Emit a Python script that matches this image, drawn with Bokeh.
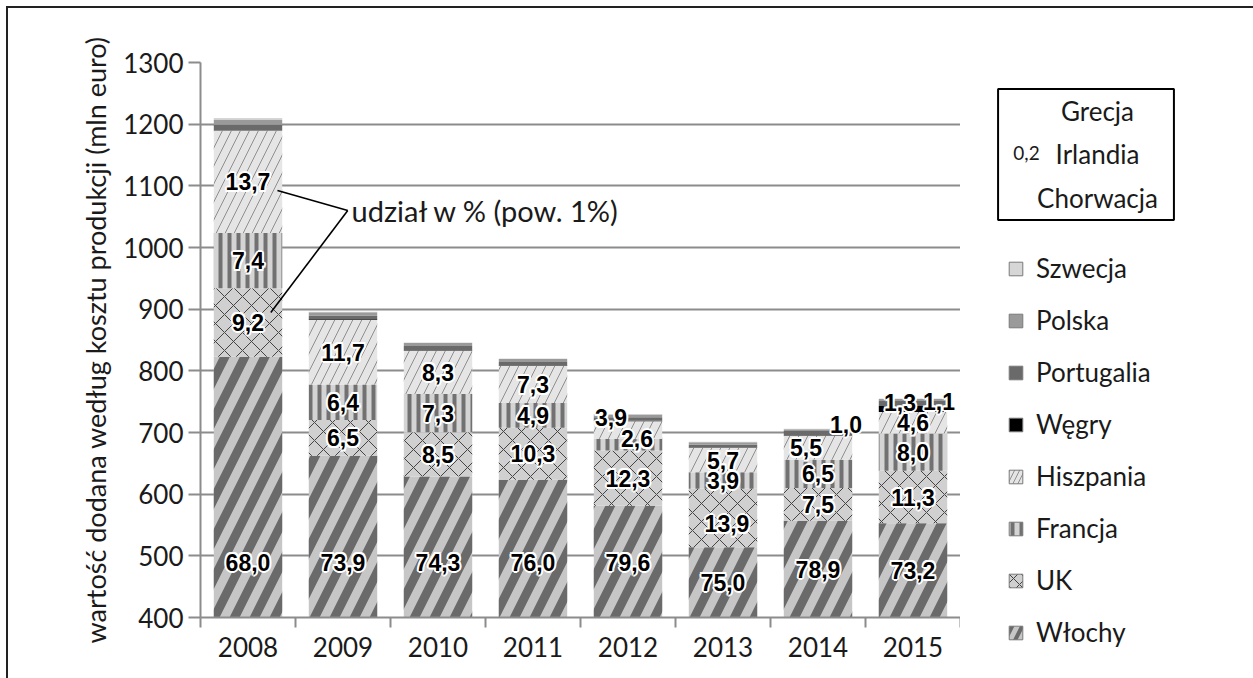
from bokeh.plotting import figure
from bokeh.layouts import row
from bokeh.models import Range1d, FixedTicker, Legend, LegendItem, Label, ColumnDataSource
from bokeh.core.properties import value
from bokeh.embed import file_html
from bokeh.resources import INLINE

# ---- data -------------------------------------------------------------
years = ["2008", "2009", "2010", "2011", "2012", "2013", "2014", "2015"]
# total value added at factor cost, mln euro
totals = [1210, 896, 846, 820, 730, 685, 706, 755]

# share of each country in the yearly total, %
wlochy = [68.0, 73.9, 74.3, 76.0, 79.6, 75.0, 78.9, 73.2]
uk = [9.2, 6.5, 8.5, 10.3, 12.3, 13.9, 7.5, 11.3]
francja = [7.4, 6.4, 7.3, 4.9, 2.6, 3.9, 6.5, 8.0]
hiszpania = [13.7, 11.7, 8.3, 7.3, 3.9, 5.7, 5.5, 4.6]
wegry = [0.0, 0.1, 0.1, 0.1, 0.1, 0.1, 0.1, 1.3]
portugalia = [0.8, 0.7, 0.8, 0.7, 0.8, 0.7, 1.0, 1.1]
polska = [0.7, 0.6, 0.6, 0.6, 0.6, 0.6, 0.4, 0.4]
szwecja = [0.2, 0.1, 0.1, 0.1, 0.1, 0.1, 0.1, 0.1]
minor_countries = ["Grecja", "Irlandia", "Chorwacja"]
small_share_label = "0,2"

y_ticks = [400, 500, 600, 700, 800, 900, 1000, 1100, 1200, 1300]
y_title = "wartość dodana według kosztu produkcji (mln euro)"
note_text = "udział w % (pow. 1%)"

# stacked bottom -> top
series = [
    ("Włochy", wlochy, dict(fill_color="#c6c6c6", hatch_pattern="/", hatch_color="#6a6a6a",
                            hatch_scale=40, hatch_weight=9)),
    ("UK", uk, dict(fill_color="#d0d0d0", hatch_pattern="x", hatch_color="#444444",
                    hatch_scale=18, hatch_weight=1)),
    ("Francja", francja, dict(fill_color="#d4d4d4", hatch_pattern="|", hatch_color="#717171",
                              hatch_scale=9, hatch_weight=4)),
    ("Hiszpania", hiszpania, dict(fill_color="#e5e5e5", hatch_pattern="/", hatch_color="#8e8e8e",
                                  hatch_scale=18, hatch_weight=1)),
    ("Węgry", wegry, dict(fill_color="#000000")),
    ("Portugalia", portugalia, dict(fill_color="#6a6a6a")),
    ("Polska", polska, dict(fill_color="#9a9a9a")),
    ("Szwecja", szwecja, dict(fill_color="#d6d6d6")),
]

# hand-nudged label offsets (px) where segments are too thin
label_nudge = {
    ("2012", "Hiszpania"): (-17, -12),
    ("2012", "Francja"): (9, -6),
    ("2013", "UK"): (4, 6),
    ("2014", "Hiszpania"): (-12, 0),
    ("2014", "Portugalia"): (28, -9),
    ("2015", "Węgry"): (-13, -7),
    ("2015", "Portugalia"): (26, -2),
}

FONT = "Lato"
TXT = "#1a1a1a"
GRID = "#8c8c8c"
Y_LO, Y_HI = y_ticks[0], y_ticks[-1]
H = 670

# ---- main chart -------------------------------------------------------
p = figure(width=952, height=H, x_range=Range1d(0, len(years)), y_range=Range1d(Y_LO, Y_HI),
           output_backend="svg", toolbar_location=None,
           min_border_left=192, min_border_right=0, min_border_top=54, min_border_bottom=61)
p.frame_align = False
p.outline_line_color = None
p.border_fill_color = "white"

xs = [i + 0.5 for i in range(len(years))]
bottoms = [0.0] * len(years)
lab = dict(x=[], y=[], text=[], dx=[], dy=[])

for name, shares, style in series:
    vals = [t * s / 100.0 for t, s in zip(totals, shares)]
    tops = [b + v for b, v in zip(bottoms, vals)]
    src = ColumnDataSource(dict(x=xs, bottom=bottoms, top=tops))
    p.vbar(x="x", bottom="bottom", top="top", width=0.72, source=src, line_color=None, **style)
    for i, s in enumerate(shares):
        if s >= 1.0:
            lo = max(bottoms[i], Y_LO)
            mid = (lo + tops[i]) / 2
            if name == "Włochy":
                mid = min(mid, 490)
            dx, dy = label_nudge.get((years[i], name), (0, 0))
            lab["x"].append(xs[i])
            lab["y"].append(mid)
            lab["text"].append(f"{s:.1f}".replace(".", ","))
            lab["dx"].append(dx)
            lab["dy"].append(dy)
    bottoms = tops

# value labels: white halo underneath, black text on top
label_style = dict(text_font=value("Liberation Sans"), text_font_size="23px",
                   text_font_style="bold", text_align="center", text_baseline="middle")
for ox, oy in [(-2, 0), (2, 0), (0, -2), (0, 2), (-1.5, -1.5), (1.5, 1.5), (-1.5, 1.5), (1.5, -1.5)]:
    halo = dict(x=lab["x"], y=lab["y"], text=lab["text"],
                dx=[d + ox for d in lab["dx"]], dy=[d + oy for d in lab["dy"]])
    p.text(x="x", y="y", text="text", x_offset="dx", y_offset="dy",
           source=ColumnDataSource(halo), text_color="white", **label_style)
p.text(x="x", y="y", text="text", x_offset="dx", y_offset="dy", source=ColumnDataSource(lab),
       text_color="black", **label_style)

# callout for the percentage labels
w0, uk0, fr0, hi0 = (totals[0] * s / 100.0 for s in (wlochy[0], uk[0], francja[0], hiszpania[0]))
hisz_mid = w0 + uk0 + fr0 + hi0 / 2
uk_mid = w0 + uk0 / 2
jx, jy = xs[0] + 1.05, 1060
p.segment(x0=[jx, jx], y0=[jy, jy], x1=[xs[0] + 0.31, xs[0] + 0.24], y1=[hisz_mid - 14, uk_mid + 16],
          line_color="black", line_width=1.6)
p.add_layout(Label(x=jx + 0.04, y=jy, text=note_text, text_font=FONT, text_font_size="29px",
                   text_color=TXT, text_align="left", text_baseline="middle"))

# axes
p.yaxis.ticker = FixedTicker(ticks=y_ticks)
p.yaxis.axis_label = y_title
p.yaxis.axis_label_text_font = FONT
p.yaxis.axis_label_text_font_size = "27px"
p.yaxis.axis_label_text_font_style = "normal"
p.yaxis.axis_label_text_color = TXT
p.yaxis.axis_label_standoff = 8
p.yaxis.major_label_text_font = FONT
p.yaxis.major_label_text_font_size = "26px"
p.yaxis.major_label_text_color = TXT
p.yaxis.major_label_standoff = 5
p.yaxis.axis_line_color = GRID
p.yaxis.axis_line_width = 2
p.yaxis.major_tick_line_color = GRID
p.yaxis.major_tick_line_width = 2
p.yaxis.major_tick_out = 12
p.yaxis.major_tick_in = 0
p.yaxis.minor_tick_line_color = None

p.xaxis.ticker = FixedTicker(ticks=xs, minor_ticks=list(range(len(years) + 1)))
p.xaxis.major_label_overrides = {x: y for x, y in zip(xs, years)}
p.xaxis.major_label_text_font = FONT
p.xaxis.major_label_text_font_size = "26px"
p.xaxis.major_label_text_color = TXT
p.xaxis.major_label_standoff = 9
p.xaxis.major_tick_out = 0
p.xaxis.major_tick_in = 0
p.xaxis.minor_tick_out = 10
p.xaxis.minor_tick_in = 0
p.xaxis.minor_tick_line_color = GRID
p.xaxis.minor_tick_line_width = 2
p.xaxis.axis_line_color = GRID
p.xaxis.axis_line_width = 2

p.xgrid.visible = False
p.ygrid.ticker = FixedTicker(ticks=y_ticks)
p.ygrid.grid_line_color = GRID
p.ygrid.grid_line_width = 2

# ---- legend panel (pixel coordinates) ---------------------------------
LW = 293
lg = figure(width=LW, height=H, x_range=Range1d(0, LW), y_range=Range1d(0, H),
            output_backend="svg", toolbar_location=None,
            x_axis_location=None, y_axis_location=None,
            min_border_left=0, min_border_right=0, min_border_top=0, min_border_bottom=0)
lg.frame_align = False
lg.outline_line_color = None
lg.grid.visible = False
lg.border_fill_color = "white"

# off-canvas stand-ins so every legend swatch carries its series' style
swatch_style = {name: dict(style) for name, _, style in series}
swatch_style["Włochy"].update(hatch_scale=20, hatch_weight=4)
swatch_style["UK"].update(hatch_scale=12)
swatch_style["Hiszpania"].update(hatch_scale=10)
swatches = {name: lg.vbar(x=[-100], bottom=[-200], top=[-100], width=1,
                          line_color="#7a7a7a", line_width=1, **swatch_style[name])
            for name, _, _ in series}
order = [name for name, _, _ in series][::-1]
legend = Legend(items=[LegendItem(label=n, renderers=[swatches[n]]) for n in order],
                location=(47, 30), orientation="vertical", margin=0, padding=0,
                border_line_color=None, background_fill_alpha=0,
                glyph_width=17, glyph_height=17, label_height=32, spacing=20,
                label_standoff=12, label_text_font=FONT, label_text_font_size="26px",
                label_text_color=TXT, label_text_baseline="middle")
lg.add_layout(legend)

# countries with negligible share, boxed
lg.add_layout(Label(x=125.5, y=524, text="\n".join(minor_countries), text_font=FONT,
                    text_font_size="26px", text_color=TXT, text_align="center",
                    text_baseline="middle", text_line_height=1.36,
                    border_line_color="black", border_line_width=2, background_fill_color="white",
                    padding=dict(left=39, right=16, top=6, bottom=6)))
lg.add_layout(Label(x=66, y=526, text=small_share_label, text_font=FONT, text_font_size="19px",
                    text_color=TXT, text_align="center", text_baseline="middle"))

layout = row(p, lg, spacing=0)
layout.styles = {"margin-left": "6px", "margin-top": "6px",
                 "border-left": "2px solid #222222", "border-top": "2px solid #222222"}

open("out.html", "w").write(file_html(layout, INLINE))
